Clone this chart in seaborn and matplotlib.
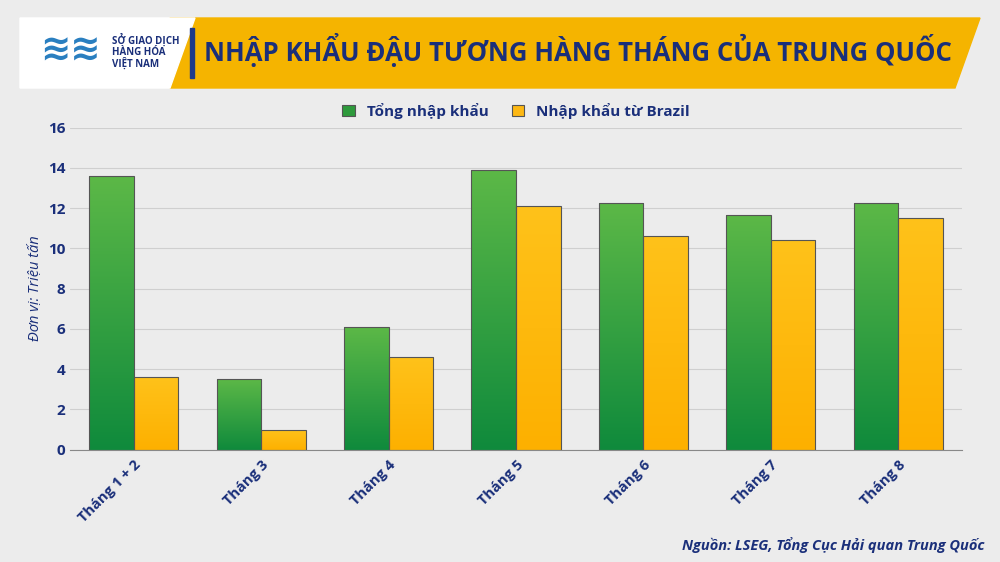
import numpy as np
import pandas as pd
import matplotlib
matplotlib.use('Agg')
import matplotlib.pyplot as plt
from matplotlib.patches import Polygon, Rectangle
import seaborn as sns

months = ['Tháng 1 + 2', 'Tháng 3', 'Tháng 4', 'Tháng 5', 'Tháng 6', 'Tháng 7', 'Tháng 8']
total_import = [13.6, 3.5, 6.1, 13.9, 12.25, 11.65, 12.25]
brazil_import = [3.6, 0.95, 4.6, 12.1, 10.6, 10.4, 11.5]
series_names = ['Tổng nhập khẩu', 'Nhập khẩu từ Brazil']

df = pd.DataFrame({'month': months * 2,
                   'value': total_import + brazil_import,
                   'series': [series_names[0]] * 7 + [series_names[1]] * 7})

sns.set_style('white')
plt.rcParams['font.family'] = ['Open Sans', 'DejaVu Sans']

fig = plt.figure(figsize=(10, 5.62), dpi=100)
fig.patch.set_facecolor('#ececec')

# header banner
hdr = fig.add_axes([0, 0, 1, 1], zorder=-1)
hdr.set_xlim(0, 1000); hdr.set_ylim(562, 0); hdr.axis('off')
hdr.add_patch(Polygon([[170, 18], [980, 18], [955, 88], [170, 88]], color='#f5b400'))
hdr.add_patch(Polygon([[20, 18], [195, 18], [170, 88], [20, 88]], color='white'))
hdr.add_patch(Rectangle((190, 28), 4, 50, color='#1f3a8a'))
hdr.text(578, 50, 'NHẬP KHẨU ĐẬU TƯƠNG HÀNG THÁNG CỦA TRUNG QUỐC', ha='center', va='center',
         fontsize=18.5, fontweight='bold', color='#1a2f7a')
hdr.text(40, 52, '≋≋', fontsize=26, color='#2a7fc0', va='center', fontweight='bold')
hdr.text(112, 52, 'SỞ GIAO DỊCH\nHÀNG HÓA\nVIỆT NAM', fontsize=7, color='#1a2f7a',
         va='center', fontweight='bold', linespacing=1.0)
hdr.text(985, 545, 'Nguồn: LSEG, Tổng Cục Hải quan Trung Quốc', ha='right', va='center',
         fontsize=10.5, fontstyle='italic', fontweight='bold', color='#1a2f7a')

ax = fig.add_axes([0.07, 0.2, 0.892, 0.573])
ax.set_facecolor('none')
palette = {series_names[0]: '#2e9a3c', series_names[1]: '#fdb813'}
sns.barplot(data=df, x='month', y='value', hue='series', palette=palette, ax=ax,
            width=0.7, edgecolor='#555555', linewidth=0.8, saturation=1)

# gradients on bars
green = matplotlib.colors.LinearSegmentedColormap.from_list('g', ['#0f8a3c', '#5cb847'])
yellow = matplotlib.colors.LinearSegmentedColormap.from_list('y', ['#fdb000', '#ffc21a'])
grad = np.linspace(0, 1, 256).reshape(-1, 1)
for i, cont in enumerate(ax.containers):
    cmap = green if i == 0 else yellow
    for bar in cont:
        x0, w, h = bar.get_x(), bar.get_width(), bar.get_height()
        im = ax.imshow(grad, cmap=cmap, origin='lower', aspect='auto',
                       extent=[x0, x0 + w, 0, h], zorder=bar.get_zorder())
        im.set_clip_path(bar)
        bar.set_facecolor('none')
        bar.set_zorder(bar.get_zorder() + 0.1)

ax.set_xlim(-0.5, 6.5)
ax.set_ylim(0, 16)
ax.set_yticks(range(0, 17, 2))
ax.yaxis.grid(True, color='#cfcfcf', linewidth=0.8)
ax.set_axisbelow(True)
for s in ['top', 'right', 'left']:
    ax.spines[s].set_visible(False)
ax.spines['bottom'].set_color('#888888')
ax.tick_params(axis='y', labelsize=11, colors='#1a2f7a', length=0)
for t in ax.get_yticklabels():
    t.set_fontweight('bold')
ax.set_xticks(range(7))
ax.set_xticklabels(months, rotation=45, ha='right', rotation_mode='anchor',
                   fontsize=10.5, fontweight='bold', color='#1a2f7a')
ax.tick_params(axis='x', length=0, pad=6)
ax.set_xlabel('')
ax.set_ylabel('Đơn vị: Triệu tấn', fontsize=10.5, fontstyle='italic', color='#1a2f7a')
ax.legend(loc='upper center', bbox_to_anchor=(0.5, 1.12), ncol=2, frameon=False,
          prop={'size': 11, 'weight': 'bold'}, labelcolor='#1a2f7a',
          handlelength=0.8, handleheight=0.8, columnspacing=1.5)
leg = ax.get_legend()
for h, c in zip(leg.legend_handles, ['#2e9a3c', '#fdb813']):
    h.set_facecolor(c)

fig.savefig('out.png', dpi=100, facecolor=fig.get_facecolor())
